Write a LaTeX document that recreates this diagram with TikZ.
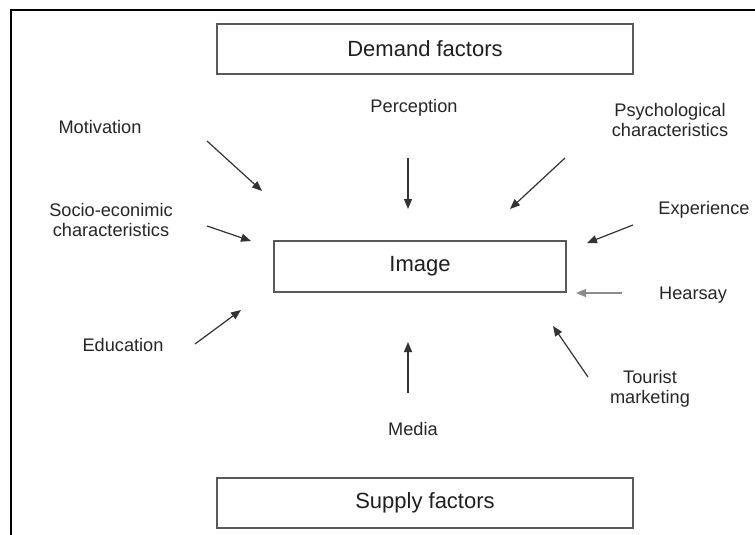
\documentclass[tikz,border=0pt]{standalone}
\usepackage{fontspec}
\setmainfont{Liberation Sans}
\usetikzlibrary{arrows.meta}
\begin{document}
\begin{tikzpicture}[x=1pt,y=-1pt,
  bigbox/.style={draw=black!65,line width=1.4pt,rectangle,inner sep=0pt,text=black!88,font=\fontsize{22}{25}\selectfont},
  lbl/.style={text=black!85,align=center,inner sep=0pt,font=\fontsize{18.2}{20.5}\selectfont},
  arr/.style={draw=black!80,line width=1.2pt,-{Triangle[length=10pt,width=8pt]}},
  lightarr/.style={arr,draw=black!45}]
\useasboundingbox (0,0) rectangle (755,535);
\fill[white] (0,0) rectangle (755,535);
\draw[line width=2.5pt] (11,537) -- (11,10) -- (757,10);
% boxes
\node[bigbox,minimum width=416pt,minimum height=50pt] (demand) at (425,49) {Demand factors};
\node[bigbox,minimum width=292pt,minimum height=51pt] (image) at (420,266.5) {Image};
\node[bigbox,minimum width=416pt,minimum height=50pt] (supply) at (425,503) {Supply factors};
% labels
\node[lbl] (motiv) at (100,127) {Motivation};
\node[lbl] (socio) at (111,220) {Socio-econimic\\characteristics};
\node[lbl] (educ) at (123,345) {Education};
\node[lbl] (perc) at (414,108) {Perception};
\node[lbl] (psych) at (670,120) {Psychological\\characteristics};
\node[lbl] (exper) at (704,210) {Experience};
\node[lbl] (hear) at (693,295) {Hearsay};
\node[lbl] (tour) at (650,389) {Tourist\\marketing};
\node[lbl] (media) at (413,429) {Media};
% arrow ends
\coordinate (motT) at (207,141); \coordinate (motH) at (262,191);
\coordinate (socT) at (207,226); \coordinate (socH) at (251,241);
\coordinate (eduT) at (195,344); \coordinate (eduH) at (241,310);
\coordinate (perT) at (408,158); \coordinate (perH) at (408,209);
\coordinate (psyT) at (565,158); \coordinate (psyH) at (510,209);
\coordinate (expT) at (633,225); \coordinate (expH) at (587,243);
\coordinate (heaT) at (622,293); \coordinate (heaH) at (576,293);
\coordinate (touT) at (588,377); \coordinate (touH) at (553,326);
\coordinate (medT) at (408,393); \coordinate (medH) at (408,342);
\draw[arr] (motT) -- (motH);
\draw[arr] (socT) -- (socH);
\draw[arr] (eduT) -- (eduH);
\draw[arr] (perT) -- (perH);
\draw[arr] (psyT) -- (psyH);
\draw[arr] (expT) -- (expH);
\draw[lightarr] (heaT) -- (heaH);
\draw[arr] (touT) -- (touH);
\draw[arr] (medT) -- (medH);
\end{tikzpicture}
\end{document}
